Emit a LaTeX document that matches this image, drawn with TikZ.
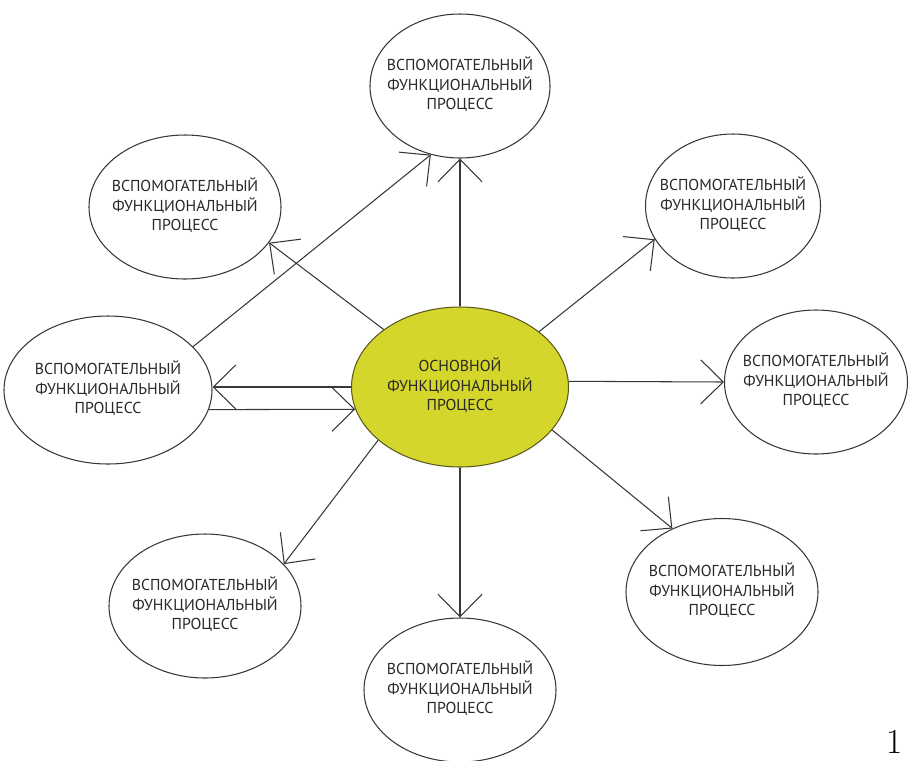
\documentclass[tikz,border=0pt]{standalone}
\usepackage{fontspec}
\newfontfamily\ptsans{PT Sans}
\usetikzlibrary{shapes.geometric, arrows.meta}

\definecolor{coreyellow}{RGB}{212,214,44}
\definecolor{coreedge}{RGB}{90,90,30}
\definecolor{linegray}{RGB}{55,55,55}
\definecolor{textgray}{RGB}{40,40,40}

% text box of zero width, so the ellipse keeps its own size
\newcommand{\proctext}[1]{\makebox[0pt]{\begin{tabular}{@{}c@{}}#1\end{tabular}}}

\begin{document}
\begin{tikzpicture}[sub/.style={ellipse, draw=linegray, line width=0.6pt, fill=white, inner sep=0pt, minimum width=3.84cm, minimum height=2.88cm, font=\ptsans\fontsize{9}{10.8}\selectfont, text=textgray}, core/.style={sub, fill=coreyellow, draw=coreedge, minimum width=4.34cm, minimum height=3.2cm}, arr/.style={-{Straight Barb[length=0.45cm, width=0.88cm]}, line width=0.6pt, draw=linegray}]
		\useasboundingbox (0,0) rectangle (18.18,-15.2);

		\node[core] (main) at (9.2,-7.74) {\proctext{ОСНОВНОЙ\\ФУНКЦИОНАЛЬНЫЙ\\ПРОЦЕСС}};
		\node[sub, minimum width=3.6cm] (top) at (9.2,-1.72) {\proctext{ВСПОМОГАТЕЛЬНЫЙ\\ФУНКЦИОНАЛЬНЫЙ\\ПРОЦЕСС}};
		\node[sub] (ul) at (3.7,-4.14) {\proctext{ВСПОМОГАТЕЛЬНЫЙ\\ФУНКЦИОНАЛЬНЫЙ\\ПРОЦЕСС}};
		\node[sub, minimum width=3.5cm] (ur) at (14.66,-4.12) {\proctext{ВСПОМОГАТЕЛЬНЫЙ\\ФУНКЦИОНАЛЬНЫЙ\\ПРОЦЕСС}};
		\node[sub, minimum width=4.16cm, minimum height=2.96cm] (left) at (2.16,-7.8) {\proctext{ВСПОМОГАТЕЛЬНЫЙ\\ФУНКЦИОНАЛЬНЫЙ\\ПРОЦЕСС}};
		\node[sub, minimum width=3.66cm] (right) at (16.32,-7.64) {\proctext{ВСПОМОГАТЕЛЬНЫЙ\\ФУНКЦИОНАЛЬНЫЙ\\ПРОЦЕСС}};
		\node[sub] (ll) at (4.1,-12.12) {\proctext{ВСПОМОГАТЕЛЬНЫЙ\\ФУНКЦИОНАЛЬНЫЙ\\ПРОЦЕСС}};
		\node[sub] (bottom) at (9.2,-13.8) {\proctext{ВСПОМОГАТЕЛЬНЫЙ\\ФУНКЦИОНАЛЬНЫЙ\\ПРОЦЕСС}};
		\node[sub, minimum height=2.94cm] (lr) at (14.44,-11.84) {\proctext{ВСПОМОГАТЕЛЬНЫЙ\\ФУНКЦИОНАЛЬНЫЙ\\ПРОЦЕСС}};

		\node[inner sep=0pt, font=\fontsize{20}{22}\selectfont] (num) at (17.9,-14.84) {1};

		\draw[arr] (main.north) -- (top.south);
		\draw[arr] (main.143) -- (ul.-23);
		\draw[arr] (main.35) -- (ur.-157);
		\draw[arr] (main.3) -- (right.west);
		\draw[arr] (main.-25) -- (lr.128);
		\draw[arr] (main.south) -- (bottom.north);
		\draw[arr] (main.-147) -- (ll.28);
		\draw[arr] (left.27) -- (top.-113);
		\draw[arr] (main.west) -- (main.west -| left.east);
		\draw[arr] (left.-11) -- (main.-168);
	\end{tikzpicture}
\end{document}
